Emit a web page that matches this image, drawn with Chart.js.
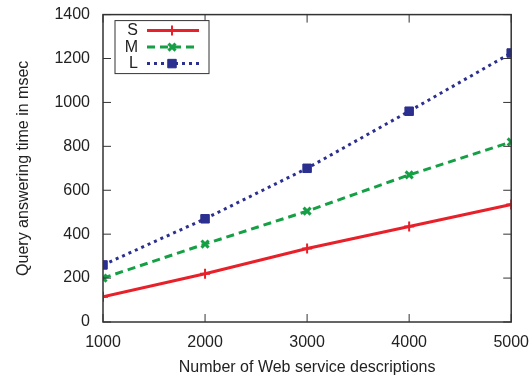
<!DOCTYPE html>
<html>
<head>
<meta charset="utf-8">
<script src="https://cdn.jsdelivr.net/npm/chart.js@4"></script>
<style>
  html, body { margin: 0; padding: 0; background: #fff; }
  #wrap { width: 532px; height: 379px; }
</style>
</head>
<body>
<div id="wrap"><canvas id="chart" width="532" height="379"></canvas></div>
<script>
const services = [1000, 2000, 3000, 4000, 5000];
const timeS = [115, 220, 335, 435, 535];
const timeM = [200, 355, 505, 670, 820];
const timeL = [260, 470, 700, 960, 1225];
const yTicks = [0, 200, 400, 600, 800, 1000, 1200, 1400];

const textColor = '#222';
const axisColor = '#333';
const font = { family: 'Liberation Sans, Arial, sans-serif', size: 16 };

// gnuplot-like frame with inward ticks on all four sides
const framePlugin = {
    id: 'frame',
    afterDatasetsDraw(chart) {
        const ctx = chart.ctx;
        const a = chart.chartArea;
        const xs = chart.scales.x, ys = chart.scales.y;
        ctx.save();
        ctx.strokeStyle = axisColor;
        ctx.lineWidth = 1.5;
        ctx.strokeRect(a.left, a.top, a.right - a.left, a.bottom - a.top);
        ctx.lineWidth = 1;
        ctx.beginPath();
        services.forEach(v => {
            const px = xs.getPixelForValue(v);
            ctx.moveTo(px, a.bottom); ctx.lineTo(px, a.bottom - 8);
            ctx.moveTo(px, a.top); ctx.lineTo(px, a.top + 8);
        });
        yTicks.forEach(v => {
            const py = ys.getPixelForValue(v);
            ctx.moveTo(a.left, py); ctx.lineTo(a.left + 8, py);
            ctx.moveTo(a.right, py); ctx.lineTo(a.right - 8, py);
        });
        ctx.stroke();
        ctx.restore();
    }
};

// legend box in gnuplot order: label first, then sample
const keyPlugin = {
    id: 'key',
    afterDraw(chart) {
        const ctx = chart.ctx;
        const a = chart.chartArea;
        const x0 = a.left + 12, y0 = a.top + 6;
        const w = 94, h = 53;
        ctx.save();
        ctx.fillStyle = '#fff';
        ctx.fillRect(x0, y0, w, h);
        ctx.strokeStyle = axisColor;
        ctx.lineWidth = 1;
        ctx.strokeRect(x0, y0, w, h);
        chart.data.datasets.forEach((ds, i) => {
            const y = y0 + 10 + i * 16.5;
            ctx.fillStyle = textColor;
            ctx.font = font.size + 'px ' + font.family;
            ctx.textAlign = 'right';
            ctx.textBaseline = 'middle';
            ctx.fillText(ds.label, x0 + 23, y);
            ctx.strokeStyle = ds.borderColor;
            ctx.fillStyle = ds.borderColor;
            ctx.lineWidth = ds.borderWidth;
            ctx.setLineDash(ds.borderDash || []);
            ctx.beginPath();
            ctx.moveTo(x0 + 32, y);
            ctx.lineTo(x0 + 84, y);
            ctx.stroke();
            ctx.setLineDash([]);
            ctx.lineWidth = ds.pointBorderWidth;
            Chart.helpers.drawPoint(ctx, {
                pointStyle: ds.pointStyle,
                radius: ds.pointRadius,
                rotation: 0,
                borderWidth: ds.pointBorderWidth
            }, x0 + 57, y);
        });
        ctx.restore();
    }
};

new Chart(document.getElementById('chart'), {
    type: 'line',
    data: {
        datasets: [
            {
                label: 'S',
                data: services.map((x, i) => ({ x, y: timeS[i] })),
                borderColor: '#e8202a',
                backgroundColor: '#e8202a',
                borderWidth: 3,
                pointStyle: 'cross',
                pointRadius: 5,
                pointBorderWidth: 2,
                pointBorderColor: '#e8202a'
            },
            {
                label: 'M',
                data: services.map((x, i) => ({ x, y: timeM[i] })),
                borderColor: '#16a046',
                backgroundColor: '#16a046',
                borderWidth: 3,
                borderDash: [8, 5],
                pointStyle: 'crossRot',
                pointRadius: 5,
                pointBorderWidth: 3,
                pointBorderColor: '#16a046'
            },
            {
                label: 'L',
                data: services.map((x, i) => ({ x, y: timeL[i] })),
                borderColor: '#2b2f8f',
                backgroundColor: '#2b2f8f',
                borderWidth: 3,
                borderDash: [3, 4],
                pointStyle: 'rect',
                pointRadius: 6,
                pointBorderWidth: 1,
                pointBorderColor: '#2b2f8f'
            }
        ]
    },
    options: {
        responsive: false,
        animation: false,
        layout: { padding: { top: 7, right: 0, left: 14, bottom: 0 } },
        plugins: {
            legend: { display: false },
            tooltip: { enabled: false }
        },
        scales: {
            x: {
                type: 'linear',
                min: 1000,
                max: 5000,
                afterBuildTicks: s => { s.ticks = services.map(v => ({ value: v })); },
                afterFit: s => { s.height = 57; },
                grid: { display: false },
                border: { display: false },
                ticks: { color: textColor, font: font, padding: 3, maxRotation: 0, callback: v => String(v) },
                title: {
                    display: true,
                    text: 'Number of Web service descriptions',
                    color: textColor,
                    font: font,
                    padding: { top: 4, bottom: 2 }
                }
            },
            y: {
                min: 0,
                max: 1400,
                afterBuildTicks: s => { s.ticks = yTicks.map(v => ({ value: v })); },
                afterFit: s => { s.width = 89; },
                grid: { display: false },
                border: { display: false },
                ticks: { color: textColor, font: font, padding: 5, callback: v => String(v) },
                title: {
                    display: true,
                    text: 'Query answering time in msec',
                    color: textColor,
                    font: font,
                    padding: { top: 0, bottom: 4 }
                }
            }
        }
    },
    plugins: [framePlugin, keyPlugin]
});
</script>
</body>
</html>
